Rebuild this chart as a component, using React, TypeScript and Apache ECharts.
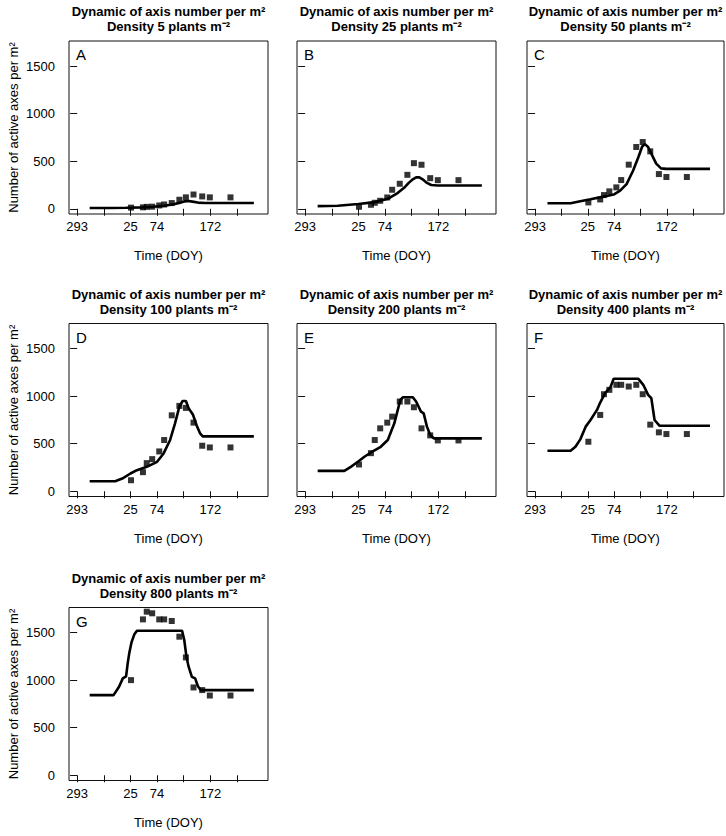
import React, { useEffect, useRef } from "react";
import * as echarts from "echarts";

const FONT = "'Liberation Sans', Arial, Helvetica, sans-serif";

const panelLetters = ["A", "B", "C", "D", "E", "F", "G"];
const densities = [5, 25, 50, 100, 200, 400, 800];

// x is counted in days from DOY 293 (autumn) of the sowing year
const xTickDays = [0, 49, 98, 147, 196, 245, 294];
const xTickLabels = ["293", "", "25", "74", "", "172", ""];
const yTickValues = [0, 500, 1000, 1500];

const obsDays = [99, 121, 128, 138, 151, 160, 174, 188, 200, 214, 230, 244, 282];

const obsA = [12, 15, 20, 22, 35, 45, 60, 95, 120, 150, 130, 120, 120];
const obsB = [21, 42, 63, 84, 119, 200, 263, 357, 480, 463, 322, 301, 301];
const obsC = [67, 98, 144, 183, 225, 302, 464, 650, 702, 604, 365, 334, 334];
const obsD = [116, 201, 296, 338, 419, 539, 799, 898, 877, 722, 479, 461, 461];
const obsE = [282, 401, 539, 662, 722, 785, 944, 944, 884, 662, 588, 535, 535];
const obsF = [521, 803, 1021, 1067, 1120, 1120, 1102, 1120, 1021, 701, 620, 602, 602];
const obsG = [1001, 1640, 1721, 1704, 1640, 1640, 1623, 1458, 1240, 924, 896, 839, 839];

const simA = [[23, 8], [60, 8], [90, 10], [120, 15], [140, 22], [160, 32], [175, 45], [188, 62], [198, 78], [205, 82], [212, 75], [222, 65], [235, 60], [325, 60]];
const simB = [[23, 28], [60, 32], [98, 50], [128, 70], [152, 105], [170, 165], [182, 220], [190, 270], [198, 310], [204, 330], [210, 330], [216, 310], [224, 272], [232, 250], [244, 245], [325, 245]];
const simC = [[23, 58], [66, 58], [84, 80], [103, 100], [127, 128], [146, 150], [158, 190], [170, 260], [182, 400], [192, 545], [199, 655], [204, 680], [210, 650], [216, 580], [225, 475], [234, 425], [244, 420], [325, 420]];
const simD = [[23, 106], [70, 106], [83, 134], [98, 187], [110, 222], [128, 257], [147, 310], [159, 398], [171, 540], [180, 715], [188, 890], [194, 950], [200, 950], [205, 875], [213, 805], [220, 690], [226, 610], [231, 578], [325, 578]];
const simE = [[23, 215], [72, 215], [84, 257], [97, 310], [109, 363], [121, 408], [139, 468], [152, 539], [164, 715], [175, 960], [180, 989], [198, 989], [204, 944], [213, 838], [218, 820], [224, 680], [230, 592], [237, 556], [325, 556]];
const simF = [[23, 426], [66, 426], [75, 468], [84, 546], [94, 680], [103, 750], [115, 856], [121, 933], [130, 1032], [140, 1095], [146, 1183], [192, 1183], [201, 1120], [210, 1014], [216, 979], [222, 750], [231, 690], [325, 690]];
const simG = [[23, 843], [67, 843], [77, 931], [84, 1019], [90, 1040], [93, 1180], [96, 1290], [100, 1400], [105, 1480], [110, 1521], [193, 1521], [197, 1423], [201, 1247], [205, 1142], [211, 1036], [217, 1019], [222, 938], [227, 896], [325, 896]];

const obsAll = [obsA, obsB, obsC, obsD, obsE, obsF, obsG];
const simAll = [simA, simB, simC, simD, simE, simF, simG];

const colLeft = [69, 297, 527];
const colWidth = [199, 199, 197];
const rowTop = [41, 323.5, 607.5];
const boxH = 173;

export default function App() {
  const ref = useRef<HTMLDivElement>(null);
  useEffect(() => {
    if (!ref.current) return;
    const chart = echarts.init(ref.current, undefined, { renderer: "svg" });
    const labeledDays = xTickDays.filter((_, i) => xTickLabels[i] !== "");
    const grid: any[] = [];
    const xAxis: any[] = [];
    const yAxis: any[] = [];
    const series: any[] = [];
    const title: any[] = [];
    const graphic: any[] = [];
    panelLetters.forEach((letter, i) => {
      const c = i % 3;
      const r = Math.floor(i / 3);
      const left = colLeft[c];
      const top = rowTop[r];
      const w = colWidth[c];
      grid.push({ left, top, width: w, height: boxH, show: true, borderColor: "#111", borderWidth: 1, backgroundColor: "transparent" });
      xAxis.push({
        type: "value", gridIndex: i, min: -15, max: 351,
        axisLine: { show: false }, splitLine: { show: false },
        axisTick: { show: true, inside: false, length: 7, customValues: xTickDays, lineStyle: { color: "#111", width: 1 } },
        axisLabel: {
          show: true, customValues: labeledDays, margin: 6, color: "#000", fontSize: 13, fontFamily: FONT,
          formatter: (v: number) => xTickLabels[xTickDays.indexOf(v)] ?? "",
        },
        name: "Time (DOY)", nameLocation: "middle", nameGap: 35,
        nameTextStyle: { color: "#000", fontSize: 13, fontFamily: FONT },
      });
      yAxis.push({
        type: "value", gridIndex: i, min: -55, max: 1765,
        axisLine: { show: false }, splitLine: { show: false },
        axisTick: { show: true, inside: false, length: 7, customValues: yTickValues, lineStyle: { color: "#111", width: 1 } },
        axisLabel: {
          show: c === 0, customValues: yTickValues, margin: 14, color: "#000", fontSize: 13, fontFamily: FONT,
          formatter: (v: number) => String(v),
        },
        name: c === 0 ? "Number of active axes per m²" : "", nameLocation: "middle", nameGap: 49,
        nameTextStyle: { color: "#000", fontSize: 13, fontFamily: FONT },
      });
      series.push({
        type: "line", xAxisIndex: i, yAxisIndex: i, data: simAll[i], showSymbol: false,
        lineStyle: { color: "#000", width: 2.6 }, z: 2,
      });
      series.push({
        type: "scatter", xAxisIndex: i, yAxisIndex: i,
        data: obsDays.map((d, j) => [d, obsAll[i][j]]),
        symbol: "rect", symbolSize: 6, itemStyle: { color: "#000" }, z: 3,
      });
      title.push({
        text: `Dynamic of axis number per m²\nDensity ${densities[i]} plants m⁻²`,
        left: left + w / 2, top: top - 37, textAlign: "center", padding: 0,
        textStyle: { fontSize: 13, fontWeight: "bold", fontFamily: FONT, color: "#000", lineHeight: 15 },
      });
      graphic.push({
        type: "text", left: left + 7, top: top + 6,
        style: { text: letter, fontSize: 15, fontFamily: FONT, fill: "#000" },
      });
    });
    chart.setOption({
      animation: false,
      backgroundColor: "#fff",
      textStyle: { fontFamily: FONT },
      grid, xAxis, yAxis, series, title, graphic,
    });
    return () => chart.dispose();
  }, []);
  return <div ref={ref} style={{ position: "absolute", left: 0, top: 0, width: 726, height: 836 }} />;
}
